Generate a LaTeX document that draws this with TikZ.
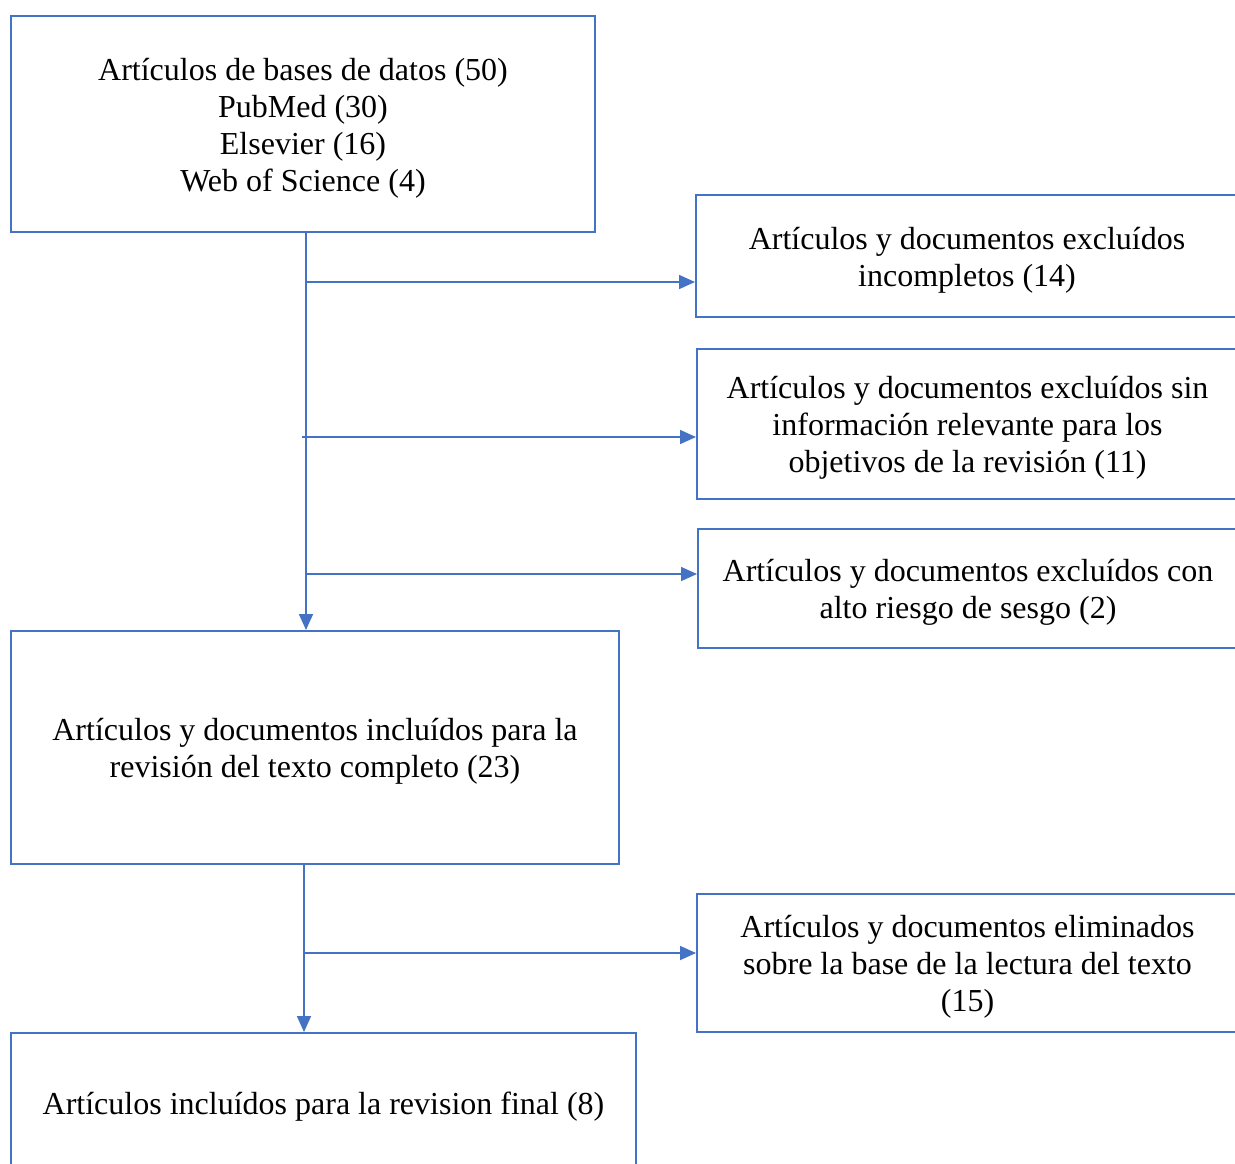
\documentclass[tikz,border=0pt]{standalone}
\usepackage{fontspec}
\setmainfont{Liberation Serif}
\usetikzlibrary{arrows.meta}
\definecolor{flowblue}{HTML}{4472C4}
\tikzset{
    box/.style={draw=flowblue, line width=1pt, inner sep=0pt},
    txt/.style={align=center, inner sep=0pt, yshift=-2pt,
        font=\fontsize{16}{18.5}\selectfont},
    flow/.style={draw=flowblue, line width=0.8pt, -{Triangle[length=8pt,width=7pt]}},
}
\begin{document}
\begin{tikzpicture}[x=0.5pt, y=-0.5pt]
        \useasboundingbox (0,0) rectangle (1235,1163);
        \clip (0,0) rectangle (1235,1163);

        % left column
        \node[box, minimum width=292pt, minimum height=108pt,
            label={[txt]center:{Artículos de bases de datos (50)\\ PubMed (30)\\ Elsevier (16)\\ Web of Science (4)}}]
            (db) at (303,124) {};
        \node[box, minimum width=304pt, minimum height=116.5pt,
            label={[txt]center:{Artículos y documentos incluídos para la\\ revisión del texto completo (23)}}]
            (full) at (315,747.5) {};
        \node[box, minimum width=312.5pt, minimum height=70pt,
            label={[txt]center:{Artículos incluídos para la revision final (8)}}]
            (final) at (323.5,1103) {};

        % right column
        \node[box, minimum width=271pt, minimum height=61pt,
            label={[txt]center:{Artículos y documentos excluídos\\ incompletos (14)}}]
            (incomp) at (967,256) {};
        \node[box, minimum width=270.5pt, minimum height=75pt,
            label={[txt]center:{Artículos y documentos excluídos sin\\ información relevante para los\\ objetivos de la revisión (11)}}]
            (norel) at (967.5,424) {};
        \node[box, minimum width=270pt, minimum height=59.5pt,
            label={[txt]center:{Artículos y documentos excluídos con\\ alto riesgo de sesgo (2)}}]
            (sesgo) at (968,588.5) {};
        \node[box, minimum width=270.5pt, minimum height=69pt,
            label={[txt]center:{Artículos y documentos eliminados\\ sobre la base de la lectura del texto\\ (15)}}]
            (lect) at (967.5,963) {};

        % trunks
        \draw[flow] (db.south -| 306,0) -- (full.north -| 306,0);
        \draw[flow] (full.south -| 304,0) -- (final.north -| 304,0);

        % branches
        \coordinate (b1) at (306,282);
        \coordinate (b2) at (302,437);
        \coordinate (b3) at (306,574);
        \coordinate (b4) at (304,953);
        \draw[flow] (b1) -- (b1 -| incomp.west);
        \draw[flow] (b2) -- (b2 -| norel.west);
        \draw[flow] (b3) -- (b3 -| sesgo.west);
        \draw[flow] (b4) -- (b4 -| lect.west);
    \end{tikzpicture}
\end{document}
